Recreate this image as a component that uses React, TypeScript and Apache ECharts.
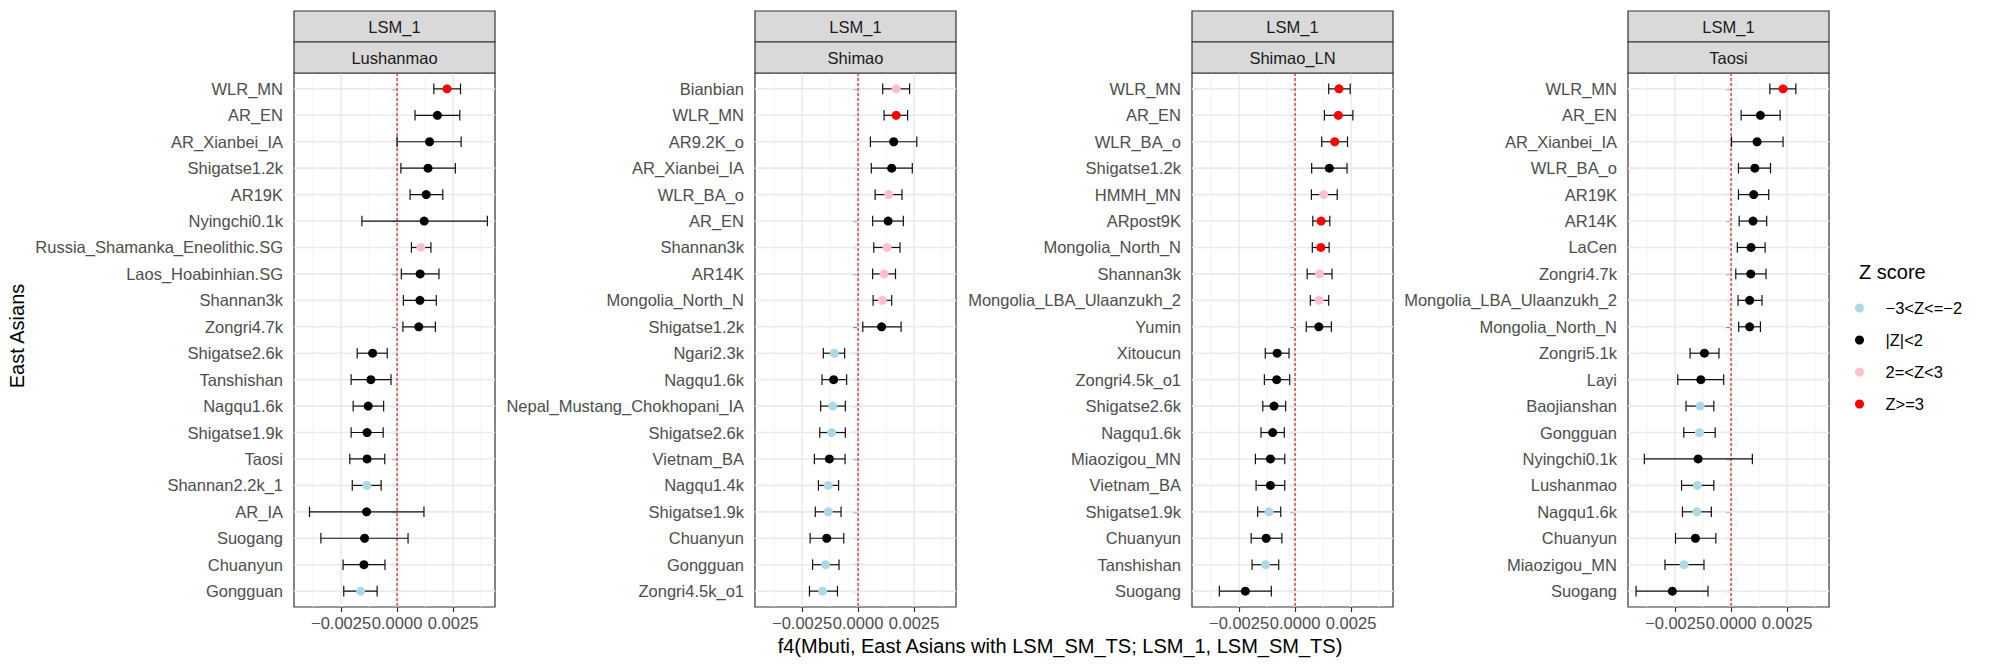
import React, { useEffect, useRef } from "react";
import * as echarts from "echarts";

const FONT = '"Liberation Sans", Arial, Helvetica, sans-serif';

// Z-score classes: 0 = light blue, 1 = black, 2 = pink, 3 = red
const zClasses = ["−3<Z<=−2", "|Z|<2", "2=<Z<3", "Z>=3"];
const zColors = ["#ADD8E6", "#000000", "#FFC0CB", "#FF0000"];

const stripTopLabel = "LSM_1";
const panelNames = ["Lushanmao", "Shimao", "Shimao_LN", "Taosi"];

const xTicks = [-0.0025, 0, 0.0025];
const xMinor = [-0.00375, -0.00125, 0.00125, 0.00375];
const X_MIN = -0.0046;
const X_MAX = 0.00437;

// ---- Lushanmao ----
const lushanmaoPops = [
  "WLR_MN", "AR_EN", "AR_Xianbei_IA", "Shigatse1.2k", "AR19K", "Nyingchi0.1k",
  "Russia_Shamanka_Eneolithic.SG", "Laos_Hoabinhian.SG", "Shannan3k", "Zongri4.7k",
  "Shigatse2.6k", "Tanshishan", "Nagqu1.6k", "Shigatse1.9k", "Taosi", "Shannan2.2k_1",
  "AR_IA", "Suogang", "Chuanyun", "Gongguan",
];
const lushanmaoF4 = [
  0.00223, 0.0018, 0.00145, 0.00138, 0.0013, 0.00121, 0.00106, 0.00103, 0.00102, 0.00097,
  -0.00109, -0.00117, -0.00129, -0.00134, -0.00134, -0.00135, -0.00136, -0.00145, -0.00148, -0.00163,
];
const lushanmaoLo = [
  0.00164, 0.0008, 0.0, 0.00017, 0.00058, -0.00157, 0.00064, 0.00019, 0.00028, 0.00026,
  -0.00178, -0.00205, -0.00196, -0.00205, -0.00211, -0.002, -0.00391, -0.0034, -0.00241, -0.00238,
];
const lushanmaoHi = [
  0.00283, 0.0028, 0.00286, 0.0026, 0.00204, 0.00403, 0.00151, 0.00187, 0.00175, 0.00171,
  -0.00044, -0.00027, -0.0006, -0.00062, -0.00055, -0.00071, 0.0012, 0.00049, -0.00054, -0.00089,
];
const lushanmaoZ = [3, 1, 1, 1, 1, 1, 2, 1, 1, 1, 1, 1, 1, 1, 1, 0, 1, 1, 1, 0];

// ---- Shimao ----
const shimaoPops = [
  "Bianbian", "WLR_MN", "AR9.2K_o", "AR_Xianbei_IA", "WLR_BA_o", "AR_EN", "Shannan3k",
  "AR14K", "Mongolia_North_N", "Shigatse1.2k", "Ngari2.3k", "Nagqu1.6k",
  "Nepal_Mustang_Chokhopani_IA", "Shigatse2.6k", "Vietnam_BA", "Nagqu1.4k", "Shigatse1.9k",
  "Chuanyun", "Gongguan", "Zongri4.5k_o1",
];
const shimaoF4 = [
  0.0017, 0.0017, 0.00159, 0.0015, 0.00137, 0.00134, 0.00129, 0.00116, 0.00108, 0.00105,
  -0.00106, -0.00109, -0.00113, -0.00118, -0.00128, -0.00133, -0.00133, -0.0014, -0.00145, -0.00158,
];
const shimaoLo = [
  0.0011, 0.00116, 0.00055, 0.00059, 0.00076, 0.00065, 0.0007, 0.00065, 0.00067, 0.00021,
  -0.00155, -0.00161, -0.00167, -0.00171, -0.00195, -0.00177, -0.00191, -0.00214, -0.00203, -0.00217,
];
const shimaoHi = [
  0.0023, 0.00221, 0.00262, 0.00242, 0.00196, 0.00202, 0.00187, 0.00167, 0.0015, 0.00192,
  -0.0006, -0.00051, -0.00057, -0.00057, -0.00058, -0.00087, -0.00076, -0.00064, -0.00085, -0.00092,
];
const shimaoZ = [2, 3, 1, 1, 2, 1, 2, 2, 2, 1, 0, 1, 0, 0, 1, 0, 0, 1, 0, 0];

// ---- Shimao_LN ----
const shimaoLnPops = [
  "WLR_MN", "AR_EN", "WLR_BA_o", "Shigatse1.2k", "HMMH_MN", "ARpost9K", "Mongolia_North_N",
  "Shannan3k", "Mongolia_LBA_Ulaanzukh_2", "Yumin", "Xitoucun", "Zongri4.5k_o1",
  "Shigatse2.6k", "Nagqu1.6k", "Miaozigou_MN", "Vietnam_BA", "Shigatse1.9k", "Chuanyun",
  "Tanshishan", "Suogang",
];
const shimaoLnF4 = [
  0.00196, 0.00193, 0.00177, 0.00153, 0.00128, 0.00116, 0.00115, 0.00109, 0.00107, 0.00106,
  -0.0008, -0.00082, -0.00094, -0.001, -0.0011, -0.0011, -0.00116, -0.00129, -0.00132, -0.00222,
];
const shimaoLnLo = [
  0.0015, 0.00131, 0.00119, 0.00074, 0.00073, 0.00079, 0.00077, 0.00054, 0.00068, 0.0005,
  -0.00133, -0.00137, -0.00144, -0.00152, -0.00177, -0.00174, -0.00167, -0.00196, -0.00192, -0.00338,
];
const shimaoLnHi = [
  0.00246, 0.00258, 0.00234, 0.00232, 0.00188, 0.00155, 0.00152, 0.00165, 0.0015, 0.00162,
  -0.00027, -0.00024, -0.00042, -0.00048, -0.00046, -0.00046, -0.00064, -0.00059, -0.00073, -0.00106,
];
const shimaoLnZ = [3, 3, 3, 1, 2, 3, 3, 2, 2, 1, 1, 1, 1, 1, 1, 1, 0, 1, 0, 1];

// ---- Taosi ----
const taosiPops = [
  "WLR_MN", "AR_EN", "AR_Xianbei_IA", "WLR_BA_o", "AR19K", "AR14K", "LaCen", "Zongri4.7k",
  "Mongolia_LBA_Ulaanzukh_2", "Mongolia_North_N", "Zongri5.1k", "Layi", "Baojianshan",
  "Gongguan", "Nyingchi0.1k", "Lushanmao", "Nagqu1.6k", "Chuanyun", "Miaozigou_MN", "Suogang",
];
const taosiF4 = [
  0.00232, 0.00131, 0.00116, 0.00106, 0.00101, 0.00098, 0.00089, 0.00088, 0.00083, 0.00083,
  -0.00119, -0.00135, -0.00138, -0.00141, -0.00147, -0.0015, -0.00153, -0.00159, -0.0021, -0.00262,
];
const taosiLo = [
  0.00173, 0.00045, 0.00002, 0.00033, 0.00033, 0.00036, 0.00028, 0.00021, 0.00031, 0.00034,
  -0.00183, -0.00238, -0.00201, -0.00211, -0.00387, -0.00221, -0.00217, -0.00248, -0.00295, -0.00424,
];
const taosiHi = [
  0.00289, 0.00219, 0.00232, 0.00176, 0.00168, 0.00159, 0.00152, 0.00156, 0.00138, 0.00131,
  -0.00054, -0.00033, -0.00077, -0.00071, 0.00095, -0.00077, -0.00088, -0.00068, -0.00121, -0.00103,
];
const taosiZ = [3, 1, 1, 1, 1, 1, 1, 1, 1, 1, 1, 1, 0, 0, 1, 0, 0, 1, 0, 1];

const panels = [
  { name: panelNames[0], pops: lushanmaoPops, f4: lushanmaoF4, lo: lushanmaoLo, hi: lushanmaoHi, z: lushanmaoZ },
  { name: panelNames[1], pops: shimaoPops, f4: shimaoF4, lo: shimaoLo, hi: shimaoHi, z: shimaoZ },
  { name: panelNames[2], pops: shimaoLnPops, f4: shimaoLnF4, lo: shimaoLnLo, hi: shimaoLnHi, z: shimaoLnZ },
  { name: panelNames[3], pops: taosiPops, f4: taosiF4, lo: taosiLo, hi: taosiHi, z: taosiZ },
];

const xTitle = "f4(Mbuti, East Asians with LSM_SM_TS; LSM_1, LSM_SM_TS)";
const yTitle = "East Asians";
const legendTitle = "Z score";

// layout
const PANEL_LEFT = [294, 755, 1192, 1628];
const PANEL_W = 201;
const PANEL_TOP = 73;
const PANEL_H = 534;
const STRIP_H = 31;
const Y_PAD = 0.6;

const GRID_MAJOR = "#EBEBEB";
const GRID_MINOR = "#F2F2F2";
const DARK = "#333333";

function fmtTick(v: number): string {
  if (Math.abs(v) < 1e-12) return "0.0000";
  return (v < 0 ? "−" : "") + Math.abs(v).toFixed(4);
}

type GuideLine = { dir: "v" | "h"; at: number; color: string; width: number; dash?: number[] };

function buildOption() {
  const grids: any[] = [];
  const xAxes: any[] = [];
  const yAxes: any[] = [];
  const series: any[] = [];
  const graphics: any[] = [];

  panels.forEach((p, i) => {
    const rows = p.pops.map((_, k) => k + 1);
    const yMin = 1 - Y_PAD;
    const yMax = rows.length + Y_PAD;
    grids.push({
      left: PANEL_LEFT[i],
      top: PANEL_TOP,
      width: PANEL_W,
      height: PANEL_H,
      show: true,
      backgroundColor: "transparent",
      borderColor: DARK,
      borderWidth: 1.2,
      containLabel: false,
      outerBoundsMode: "none",
    });
    xAxes.push({
      type: "value",
      gridIndex: i,
      min: X_MIN,
      max: X_MAX,
      axisLine: { show: false },
      splitLine: { show: false },
      minorSplitLine: { show: false },
      axisTick: { show: true, customValues: xTicks, length: 5, lineStyle: { color: DARK, width: 1.2 } },
      axisLabel: {
        customValues: xTicks,
        formatter: (v: number) => fmtTick(v),
        color: "#4D4D4D",
        fontSize: 16.5,
        fontFamily: FONT,
        margin: 7,
      },
    });
    yAxes.push({
      type: "value",
      gridIndex: i,
      inverse: true,
      min: yMin,
      max: yMax,
      axisLine: { show: false },
      splitLine: { show: false },
      axisTick: { show: true, customValues: rows, length: 5, lineStyle: { color: DARK, width: 1.2 } },
      axisLabel: {
        customValues: rows,
        formatter: (v: number) => p.pops[Math.round(v) - 1] ?? "",
        color: "#4D4D4D",
        fontSize: 16.5,
        fontFamily: FONT,
        margin: 11,
      },
    });

    // panel grid lines and the dashed zero reference, placed through the axes' scales
    const guides: GuideLine[] = [
      ...xMinor.map((v) => ({ dir: "v" as const, at: v, color: GRID_MINOR, width: 0.9 })),
      ...xTicks.map((v) => ({ dir: "v" as const, at: v, color: GRID_MAJOR, width: 1.6 })),
      ...rows.map((r) => ({ dir: "h" as const, at: r, color: GRID_MAJOR, width: 1.6 })),
      { dir: "v", at: 0, color: "#D11414", width: 1.1, dash: [3, 2] },
    ];
    series.push({
      type: "custom",
      name: "grid-" + p.name,
      xAxisIndex: i,
      yAxisIndex: i,
      z: 1,
      silent: true,
      encode: { x: 0, y: 1 },
      data: guides.map((g) => (g.dir === "v" ? [g.at, yMin] : [X_MIN, g.at])),
      renderItem: (params: any, api: any) => {
        const g = guides[params.dataIndex];
        let a: number[];
        let b: number[];
        if (g.dir === "v") {
          a = api.coord([g.at, yMin]);
          b = api.coord([g.at, yMax]);
        } else {
          a = api.coord([X_MIN, g.at]);
          b = api.coord([X_MAX, g.at]);
        }
        return {
          type: "line",
          shape: { x1: a[0], y1: a[1], x2: b[0], y2: b[1] },
          style: { stroke: g.color, lineWidth: g.width, lineDash: g.dash ?? null, fill: null },
        };
      },
    });

    // error bars
    series.push({
      type: "custom",
      name: "errorbar-" + p.name,
      xAxisIndex: i,
      yAxisIndex: i,
      z: 2,
      silent: true,
      encode: { x: [0, 1], y: 2 },
      data: p.pops.map((_, k) => [p.lo[k], p.hi[k], k + 1]),
      renderItem: (_params: any, api: any) => {
        const row = api.value(2);
        const a = api.coord([api.value(0), row]);
        const b = api.coord([api.value(1), row]);
        const capA = api.coord([api.value(0), row - 0.2])[1];
        const capB = api.coord([api.value(0), row + 0.2])[1];
        const style = { stroke: "#111111", lineWidth: 1.2, fill: null };
        return {
          type: "group",
          children: [
            { type: "line", shape: { x1: a[0], y1: a[1], x2: b[0], y2: b[1] }, style },
            { type: "line", shape: { x1: a[0], y1: capA, x2: a[0], y2: capB }, style },
            { type: "line", shape: { x1: b[0], y1: capA, x2: b[0], y2: capB }, style },
          ],
        };
      },
    });

    zClasses.forEach((cls, c) => {
      series.push({
        type: "scatter",
        name: cls,
        xAxisIndex: i,
        yAxisIndex: i,
        z: 3,
        symbol: "circle",
        symbolSize: 9,
        itemStyle: { color: zColors[c], opacity: 1 },
        emphasis: { disabled: true },
        data: p.pops
          .map((_, k) => k)
          .filter((k) => p.z[k] === c)
          .map((k) => [p.f4[k], k + 1]),
      });
    });

    // facet strips
    const L = PANEL_LEFT[i];
    [stripTopLabel, p.name].forEach((label, s) => {
      const top = PANEL_TOP - STRIP_H * (2 - s);
      graphics.push({
        type: "rect",
        shape: { x: L, y: top, width: PANEL_W, height: STRIP_H },
        style: { fill: "#D9D9D9", stroke: DARK, lineWidth: 1.2 },
        z: 5,
      });
      graphics.push({
        type: "text",
        x: L + PANEL_W / 2,
        y: top + STRIP_H / 2,
        style: {
          text: label,
          fill: "#1A1A1A",
          fontSize: 16.5,
          fontFamily: FONT,
          align: "center",
          verticalAlign: "middle",
          textAlign: "center",
          textVerticalAlign: "middle",
        },
        z: 6,
      });
    });
  });

  graphics.push({
    type: "text",
    x: 1060,
    y: 646,
    style: {
      text: xTitle,
      fill: "#000000",
      fontSize: 20,
      fontFamily: FONT,
      align: "center",
      verticalAlign: "middle",
      textAlign: "center",
      textVerticalAlign: "middle",
    },
  });
  graphics.push({
    type: "text",
    x: 17,
    y: 336,
    rotation: Math.PI / 2,
    style: {
      text: yTitle,
      fill: "#000000",
      fontSize: 20,
      fontFamily: FONT,
      align: "center",
      verticalAlign: "middle",
      textAlign: "center",
      textVerticalAlign: "middle",
    },
  });
  graphics.push({
    type: "text",
    x: 1859,
    y: 272,
    style: {
      text: legendTitle,
      fill: "#000000",
      fontSize: 20,
      fontFamily: FONT,
      align: "left",
      verticalAlign: "middle",
      textAlign: "left",
      textVerticalAlign: "middle",
    },
  });

  return {
    animation: false,
    backgroundColor: "#FFFFFF",
    textStyle: { fontFamily: FONT },
    grid: grids,
    xAxis: xAxes,
    yAxis: yAxes,
    series,
    legend: {
      data: zClasses,
      orient: "vertical",
      left: 1855,
      top: 298,
      padding: 0,
      icon: "circle",
      itemWidth: 42,
      itemHeight: 9,
      itemGap: 12,
      selectedMode: false,
      textStyle: { fontSize: 16.5, color: "#000000", lineHeight: 20, fontFamily: FONT },
    },
    graphic: graphics,
  };
}

export default function App() {
  const ref = useRef<HTMLDivElement>(null);
  useEffect(() => {
    if (!ref.current) return;
    const chart = echarts.init(ref.current, undefined, { renderer: "svg" });
    chart.setOption(buildOption() as any);
    return () => chart.dispose();
  }, []);
  return (
    <div
      ref={ref}
      style={{ position: "fixed", left: 0, top: 0, width: 2000, height: 667, background: "#fff" }}
    />
  );
}
